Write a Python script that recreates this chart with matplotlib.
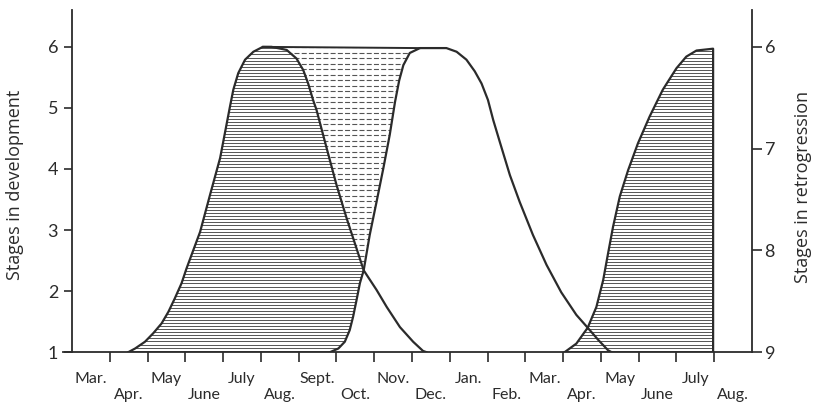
import numpy as np
import matplotlib.pyplot as plt
from matplotlib.collections import LineCollection

plt.rcParams['font.family'] = ['Lato', 'DejaVu Sans']

# month labels, one per month interval (Mar. of year 1 to Aug. of year 2)
months = ['Mar.', 'Apr.', 'May', 'June', 'July', 'Aug.', 'Sept.', 'Oct.', 'Nov.',
          'Dec.', 'Jan.', 'Feb.', 'Mar.', 'Apr.', 'May', 'June', 'July', 'Aug.']
dev_ticks = [1, 2, 3, 4, 5, 6]
retro_ticks = [6, 7, 8, 9]

# first cohort: development ...
rise1_m = [1.49, 1.67, 1.93, 2.15, 2.37, 2.55, 2.72, 2.90, 3.03, 3.39, 3.65, 3.92,
           4.18, 4.27, 4.40, 4.58, 4.80, 5.05]
rise1_s = [1.0, 1.06, 1.17, 1.31, 1.47, 1.66, 1.88, 2.13, 2.37, 2.97, 3.57, 4.18,
           5.02, 5.30, 5.57, 5.79, 5.92, 6.0]
# ... and retrogression
fall1_m = [5.05, 5.28, 5.68, 5.94, 6.12, 6.25, 6.38, 6.47, 6.74, 7.0, 7.27, 7.53,
           7.72, 8.06, 8.33, 8.68, 9.03, 9.29, 9.38]
fall1_s = [6.0, 6.0, 5.95, 5.81, 5.62, 5.40, 5.13, 4.97, 4.34, 3.74, 3.19, 2.70,
           2.34, 2.02, 1.74, 1.41, 1.17, 1.02, 1.0]

# second cohort
rise2_m = [6.83, 7.05, 7.22, 7.35, 7.44, 7.53, 7.62, 7.72, 7.88, 8.06, 8.24, 8.41,
           8.55, 8.66, 8.77, 8.94, 9.21]
rise2_s = [1.0, 1.06, 1.17, 1.36, 1.58, 1.85, 2.13, 2.34, 2.92, 3.46, 4.01, 4.56,
           5.10, 5.45, 5.70, 5.90, 5.98]
fall2_m = [9.21, 9.91, 10.18, 10.44, 10.66, 10.84, 11.01, 11.15, 11.32, 11.59, 11.85,
           12.20, 12.56, 12.95, 13.35, 13.65, 13.93, 14.19, 14.28]
fall2_s = [5.98, 5.98, 5.92, 5.79, 5.60, 5.40, 5.13, 4.80, 4.45, 3.90, 3.46,
           2.92, 2.43, 1.98, 1.61, 1.40, 1.20, 1.03, 1.0]

# third cohort (development only)
rise3_m = [13.04, 13.35, 13.65, 13.88, 14.06, 14.19, 14.32, 14.50, 14.72, 14.98,
           15.29, 15.64, 16.0, 16.26, 16.53, 16.97, 16.97]
rise3_s = [1.0, 1.14, 1.40, 1.74, 2.18, 2.62, 3.05, 3.55, 3.98, 4.42,
           4.86, 5.30, 5.65, 5.84, 5.94, 5.97, 1.0]

ink = '#2b2b2b'
hatch_ink = '#555555'

fig = plt.figure(figsize=(8.13, 4.09), dpi=100)
ax = fig.add_axes([0.077, 0.139, 0.848, 0.836])
ax.set_xlim(-0.25, 18)
ax.set_ylim(1, 6.6)

# where the first retrogression crosses the second development
k = fall1_m.index(7.72)
j = rise2_m.index(7.72)


def hatch(poly_m, poly_s, step, **kw):
    patch = ax.fill(poly_m, poly_s, facecolor='none', linewidth=0)[0]
    levels = np.arange(1 + step / 2, 6.6, step)
    segs = [[(-1, y), (19, y)] for y in levels]
    lc = LineCollection(segs, colors=hatch_ink, **kw)
    ax.add_collection(lc)
    lc.set_clip_path(patch)


# horizontal hatching: first cohort area not covered by second cohort
hatch(rise1_m + fall1_m[1:k + 1] + rise2_m[:j][::-1],
      rise1_s + fall1_s[1:k + 1] + rise2_s[:j][::-1], 0.05, linewidths=0.7)
# dashed shading: between retrogression of first and development of second
hatch(fall1_m[:k + 1] + rise2_m[j + 1:],
      fall1_s[:k + 1] + rise2_s[j + 1:], 0.09, linewidths=0.8,
      linestyles=[(0, (4.5, 2.0))])
# third cohort
hatch(rise3_m, rise3_s, 0.05, linewidths=0.7)

ax.plot(rise1_m + fall1_m[1:], rise1_s + fall1_s[1:], color=ink, lw=1.6)
ax.plot(rise2_m + fall2_m[1:], rise2_s + fall2_s[1:], color=ink, lw=1.6)
ax.plot(rise3_m, rise3_s, color=ink, lw=1.6)
ax.plot([fall1_m[0], rise2_m[-1]], [fall1_s[0], rise2_s[-1]], color=ink, lw=1.4)

# axes styling
ax.spines['top'].set_visible(False)
ax.spines['right'].set_visible(False)
ax.spines['left'].set_position(('data', 0))
for sp in ('left', 'bottom'):
    ax.spines[sp].set_linewidth(1.3)
    ax.spines[sp].set_color(ink)

ax.set_yticks(dev_ticks)
ax.tick_params(axis='y', direction='out', length=6, width=1.2, pad=4,
               labelsize=13, colors=ink)

ax.set_xticks(range(1, 18))
ax.set_xticklabels([])
ax.set_xticks(np.arange(0.5, 18, 1), minor=True)
ax.set_xticklabels([m if i % 2 == 0 else '\n' + m for i, m in enumerate(months)],
                   minor=True, va='top')
ax.tick_params(axis='x', which='major', direction='out', length=7, width=1.2, colors=ink)
ax.tick_params(axis='x', which='minor', length=0, pad=14, labelsize=11.5, colors=ink)

ax2 = ax.twinx()
ax2.set_ylim(9, 9 - 5.6 * 3 / 5)
ax2.set_yticks(retro_ticks)
for sp in ('top', 'left', 'bottom'):
    ax2.spines[sp].set_visible(False)
ax2.spines['right'].set_linewidth(1.3)
ax2.spines['right'].set_color(ink)
ax2.tick_params(axis='y', direction='out', length=7, width=1.2, pad=2,
                labelsize=13, colors=ink)

fig.text(0.019, 0.548, 'Stages in development', rotation=90, ha='center',
         va='center', fontsize=13, color=ink, family=['Open Sans', 'DejaVu Sans'])
fig.text(0.988, 0.543, 'Stages in retrogression', rotation=90, ha='center',
         va='center', fontsize=13, color=ink, family=['Open Sans', 'DejaVu Sans'])

fig.savefig('out.png', dpi=100)
